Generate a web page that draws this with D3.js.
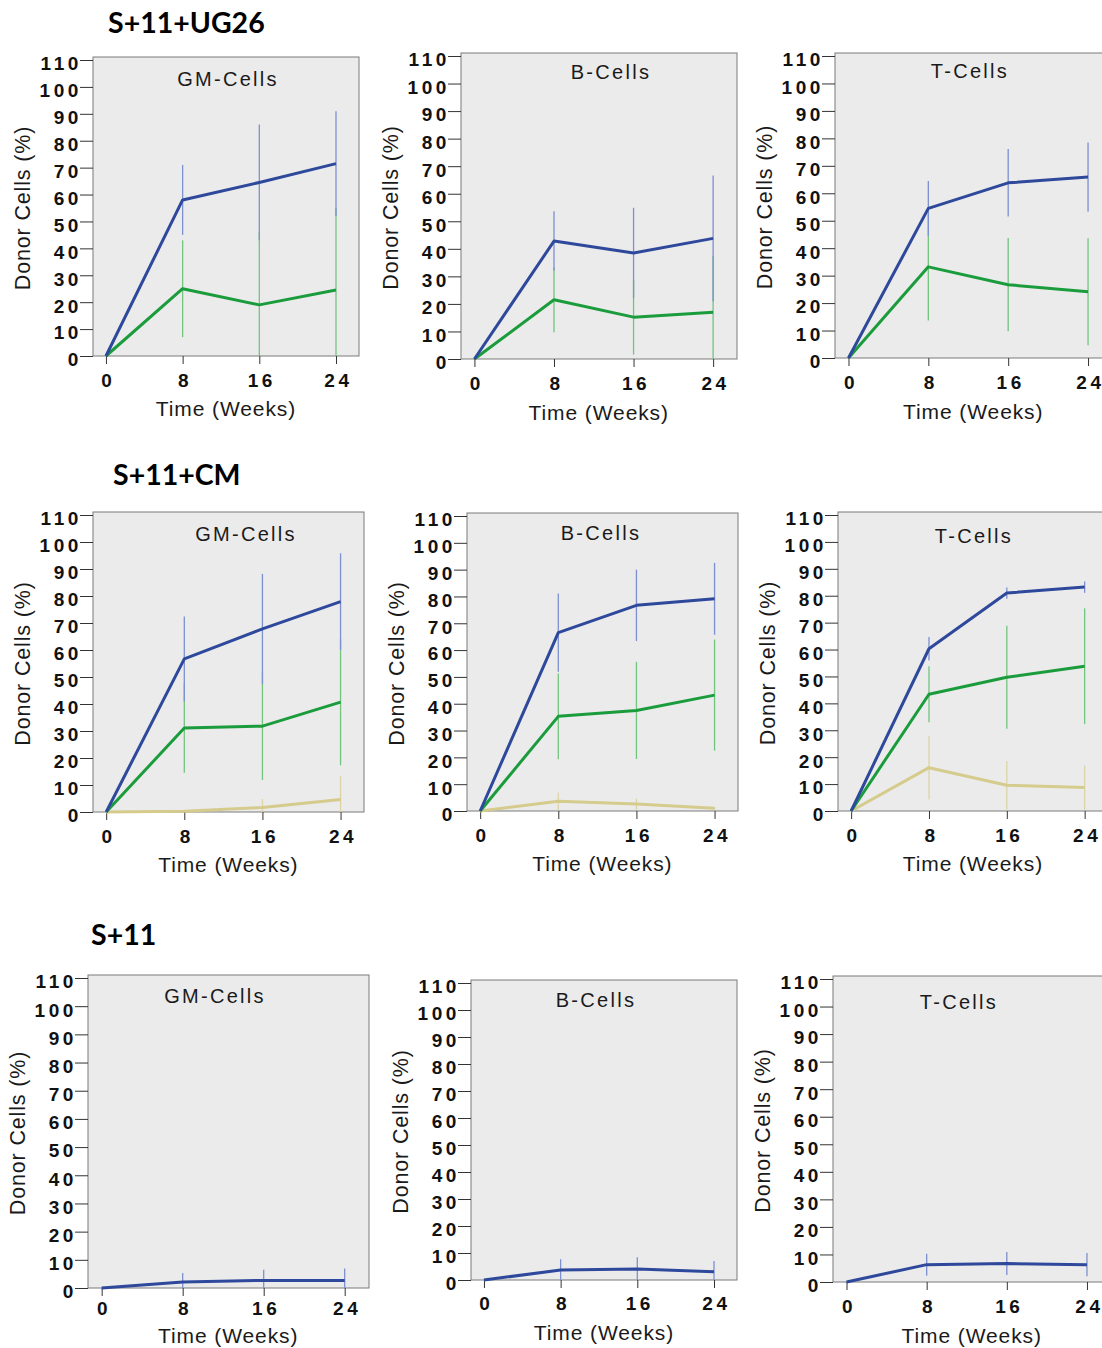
<!DOCTYPE html>
<html>
<head>
<meta charset="utf-8">
<script src="https://cdn.jsdelivr.net/npm/d3@7"></script>
<style>
  body { margin: 0; background: #fff; }
  svg text { font-family: "Liberation Sans", Arial, sans-serif; }
</style>
</head>
<body>
<svg id="chart" width="1102" height="1348"></svg>
<script>
const weeks = [0, 8, 16, 24];
const yTicks = [0, 10, 20, 30, 40, 50, 60, 70, 80, 90, 100, 110];
const groupNames = ["S+11+UG26", "S+11+CM", "S+11"];
const cellTypes = ["GM-Cells", "B-Cells", "T-Cells"];

// one row per panel, row-major (UG26 GM/B/T, CM GM/B/T, S+11 GM/B/T)
const blueMean = [
  [0, 58, 64.5, 71.5], [0, 42.8, 38.5, 43.8], [0, 54.5, 63.8, 65.9],
  [0, 56.7, 67.8, 77.9], [0, 66.5, 76.7, 79.1], [0, 60.3, 81, 83.2],
  [0, 2.1, 2.7, 2.7], [0, 3.7, 4.1, 3.1], [0, 6.3, 6.7, 6.3]
];
const blueErr = [
  [0, 13, 21.5, 19.5], [0, 10.8, 16.4, 22.8], [0, 10, 12.3, 12.6],
  [0, 15.7, 20.4, 17.9], [0, 14.6, 13.3, 13.4], [0, 4.4, 2.1, 2.1],
  [0, 3.2, 3.8, 4.2], [0, 4, 4.3, 3.9], [0, 4, 4.2, 4.2]
];
const greenMean = [
  [0, 25, 19, 24.5], [0, 21.5, 15.2, 17], [0, 33.2, 26.7, 24.1],
  [0, 31.1, 31.8, 40.7], [0, 35.3, 37.5, 43.2], [0, 43.4, 49.7, 53.8],
  null, null, null
];
const greenErr = [
  [0, 18, 27, 30.5], [0, 11.8, 13.6, 20.5], [0, 19.5, 17, 19.5],
  [0, 16.6, 19.9, 23.4], [0, 16, 18.1, 20.7], [0, 10.4, 19.1, 21.5],
  null, null, null
];
const tanMean = [
  null, null, null,
  [0, 0.3, 1.7, 4.6], [0, 3.6, 2.6, 1.0], [0, 16.1, 9.6, 8.7],
  null, null, null
];
const tanErr = [
  null, null, null,
  [0, 0.5, 3.1, 8.8], [0, 3.2, 2.1, 0.5], [0, 11.8, 9, 8.2],
  null, null, null
];

// layout: box left/width, y of 110 and height down to 0, panel title centre,
// x tick padding and x title offset below the axis
const panels = [
  {bx: 93,  bw: 266, by: 60,  bh: 296, tx: 228, ty: 86,   tp: 10, xl: 60},
  {bx: 461, bw: 276, by: 56,  bh: 303, tx: 611, ty: 79,   tp: 10, xl: 61},
  {bx: 835, bw: 277, by: 56,  bh: 302, tx: 970, ty: 78,   tp: 10, xl: 61},
  {bx: 93,  bw: 271, by: 515, bh: 297, tx: 246, ty: 541,  tp: 10, xl: 60},
  {bx: 467, bw: 271, by: 516, bh: 295, tx: 601, ty: 540,  tp: 10, xl: 60},
  {bx: 838, bw: 270, by: 515, bh: 296, tx: 974, ty: 543,  tp: 10, xl: 60},
  {bx: 88,  bw: 281, by: 978, bh: 310, tx: 215, ty: 1003, tp: 6,  xl: 55},
  {bx: 471, bw: 266, by: 983, bh: 297, tx: 596, ty: 1007, tp: 9,  xl: 60},
  {bx: 833, bw: 278, by: 979, bh: 303, tx: 959, ty: 1009, tp: 10, xl: 61}
];
const groupPos = [{x: 108, y: 33}, {x: 113, y: 485}, {x: 91, y: 945}];

const svg = d3.select("#chart");

svg.selectAll(".group-title")
  .data(groupNames)
  .enter()
  .append("text")
  .attr("x", (d, i) => groupPos[i].x)
  .attr("y", (d, i) => groupPos[i].y)
  .style("font-family", "Lato, 'Open Sans', sans-serif")
  .style("font-weight", 700)
  .style("font-size", "28.5px")
  .attr("fill", "#000")
  .text(d => d);

panels.forEach((p, i) => {
  const g = svg.append("g");
  const x = d3.scaleLinear().domain([-1.35, 26.4]).range([p.bx, p.bx + p.bw]);
  const y = d3.scaleLinear().domain([0, 110]).range([p.by + p.bh, p.by]);

  g.append("rect")
    .attr("x", p.bx).attr("y", p.by - 3)
    .attr("width", p.bw).attr("height", p.bh + 3)
    .attr("fill", "#ebebeb")
    .attr("stroke", "#7a7a7a")
    .attr("stroke-width", 1);

  // y axis
  const ya = g.append("g")
    .attr("transform", "translate(" + p.bx + ",0)")
    .call(d3.axisLeft(y).tickValues(yTicks).tickSize(13).tickSizeOuter(0));
  ya.select(".domain").remove();
  ya.selectAll("line").attr("stroke", "#333");
  ya.selectAll("text")
    .attr("x", -11)
    .attr("dy", "0.52em")
    .style("font-size", "19px")
    .style("font-weight", 700)
    .style("letter-spacing", "3.6px")
    .attr("fill", "#111");

  // x axis
  const xa = g.append("g")
    .attr("transform", "translate(0," + (p.by + p.bh) + ")")
    .call(d3.axisBottom(x).tickValues(weeks).tickSize(8).tickPadding(p.tp).tickSizeOuter(0));
  xa.select(".domain").remove();
  xa.selectAll("line").attr("stroke", "#333");
  xa.selectAll("text")
    .attr("dx", 2)
    .style("font-size", "19px")
    .style("font-weight", 700)
    .style("letter-spacing", "3.6px")
    .attr("fill", "#111");

  g.append("text")
    .attr("x", (x(0) + x(24)) / 2 + 5)
    .attr("y", p.by + p.bh + p.xl)
    .attr("text-anchor", "middle")
    .style("font-size", "21px")
    .style("letter-spacing", "0.9px")
    .attr("fill", "#1a1a1a")
    .text("Time (Weeks)");

  g.append("text")
    .attr("transform", "translate(" + (p.bx - 63) + "," + (p.by + p.bh / 2) + ") rotate(-90)")
    .attr("text-anchor", "middle")
    .style("font-size", "21.5px")
    .style("letter-spacing", "0.85px")
    .attr("fill", "#1a1a1a")
    .text("Donor Cells (%)");

  g.append("text")
    .attr("x", p.tx).attr("y", p.ty)
    .attr("text-anchor", "middle")
    .style("font-size", "20px")
    .style("letter-spacing", "2.3px")
    .attr("fill", "#1a1a1a")
    .text(cellTypes[i % 3]);

  const series = [
    {mean: tanMean[i], err: tanErr[i], line: "#d5cb8d", bar: "#dcd4a6"},
    {mean: greenMean[i], err: greenErr[i], line: "#1b9c3c", bar: "#73c47f"},
    {mean: blueMean[i], err: blueErr[i], line: "#2e489c", bar: "#7d90cf"}
  ].filter(s => s.mean);

  series.forEach(s => {
    g.selectAll(null)
      .data(s.mean.map((m, j) => ({w: weeks[j], m: m, e: s.err[j]})).filter(d => d.e > 0))
      .enter()
      .append("line")
      .attr("x1", d => x(d.w)).attr("x2", d => x(d.w))
      .attr("y1", d => y(Math.min(110, d.m + d.e)))
      .attr("y2", d => y(Math.max(0, d.m - d.e)))
      .attr("stroke", s.bar)
      .attr("stroke-width", 1.3);
  });

  const line = d3.line()
    .x((d, j) => x(weeks[j]))
    .y(d => y(d));

  series.forEach(s => {
    g.append("path")
      .datum(s.mean)
      .attr("d", line)
      .attr("fill", "none")
      .attr("stroke", s.line)
      .attr("stroke-width", 3)
      .attr("stroke-linejoin", "round");
  });
});
</script>
</body>
</html>
